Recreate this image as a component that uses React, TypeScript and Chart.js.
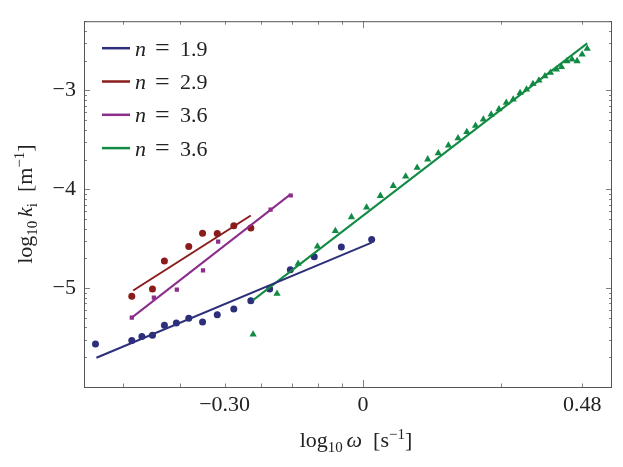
import React, { useEffect, useRef } from "react";
import { Chart, registerables, Plugin } from "chart.js";

Chart.register(...registerables);

const SERIF = "'Liberation Serif', 'Times New Roman', 'DejaVu Serif', serif";

// log10 ω  vs  log10 k_i
const blueX = [-0.582, -0.503, -0.481, -0.458, -0.432, -0.406, -0.379, -0.349, -0.317, -0.281, -0.244, -0.203, -0.158, -0.106, -0.047, 0.019];
const blueY = [-5.565, -5.53, -5.49, -5.477, -5.376, -5.353, -5.304, -5.343, -5.269, -5.21, -5.127, -5.01, -4.814, -4.683, -4.585, -4.507];

const redX = [-0.503, -0.458, -0.432, -0.379, -0.349, -0.317, -0.281, -0.244];
const redY = [-5.082, -5.01, -4.725, -4.578, -4.445, -4.448, -4.37, -4.392];

const purpleX = [-0.503, -0.455, -0.405, -0.348, -0.315, -0.281, -0.201, -0.157];
const purpleY = [-5.298, -5.095, -5.014, -4.82, -4.53, -4.38, -4.206, -4.063];

const greenX = [
  -0.239, -0.187, -0.141, -0.099, -0.06, -0.025, 0.008, 0.038, 0.066, 0.093, 0.118, 0.141,
  0.164, 0.186, 0.207, 0.226, 0.245, 0.262, 0.279, 0.296, 0.312, 0.327, 0.342, 0.356,
  0.37, 0.383, 0.396, 0.408, 0.421, 0.432, 0.444, 0.455, 0.466, 0.477, 0.488,
];
const greenY = [
  -5.468, -5.056, -4.752, -4.578, -4.422, -4.281, -4.183, -4.066, -3.965, -3.87, -3.781, -3.697,
  -3.634, -3.556, -3.484, -3.419, -3.357, -3.294, -3.242, -3.19, -3.125, -3.092, -3.026, -2.99,
  -2.935, -2.899, -2.857, -2.821, -2.788, -2.762, -2.703, -2.686, -2.703, -2.637, -2.578,
];

// fitted power laws (end points of each line)
const blueFitX = [-0.58, 0.019];
const blueFitY = [-5.704, -4.539];
const redFitX = [-0.5, -0.244];
const redFitY = [-5.024, -4.265];
const purpleFitX = [-0.503, -0.157];
const purpleFitY = [-5.298, -4.049];
const greenFitX = [-0.239, 0.488];
const greenFitY = [-5.121, -2.524];

const exponents = ["1.9", "2.9", "3.6", "3.6"];

// axes
const xTickValues = [Math.log10(0.5), 0, Math.log10(3)];
const xTickLabels = ["−0.30", "0", "0.48"];
const yTickValues = [-5, -4, -3];
const yTickLabels = ["−5", "−4", "−3"];
const minorMultipliers = [2, 3, 4, 5, 6, 7, 8, 9];
const xDecades = [-1, 0];
const yDecades = [-6, -5, -4, -3];

const colors = {
  blue: "#2e2f7b",
  red: "#8a1c1c",
  purple: "#8c2d8c",
  green: "#118a43",
};

const zip = (xs: number[], ys: number[]) => xs.map((x, i) => ({ x, y: ys[i] }));

type Piece = { text: string; font: string; dy?: number };

function drawRich(ctx: CanvasRenderingContext2D, pieces: Piece[], cx: number, baseline: number) {
  let total = 0;
  for (const p of pieces) {
    ctx.font = p.font;
    total += ctx.measureText(p.text).width;
  }
  let x = cx - total / 2;
  ctx.textAlign = "left";
  ctx.textBaseline = "alphabetic";
  for (const p of pieces) {
    ctx.font = p.font;
    ctx.fillText(p.text, x, baseline + (p.dy || 0));
    x += ctx.measureText(p.text).width;
  }
}

const big = `22px ${SERIF}`;
const bigItalic = `italic 22px ${SERIF}`;
const small = `15px ${SERIF}`;

const decorPlugin: Plugin = {
  id: "decor",
  afterDraw(chart) {
    const { ctx, chartArea } = chart;
    const { left, right, top, bottom } = chartArea;
    const xs = chart.scales.x;
    const ys = chart.scales.y;
    ctx.save();

    // tick marks, inward on all four sides
    ctx.strokeStyle = "#808080";
    ctx.lineWidth = 1;
    const xMarks: { v: number; major: boolean }[] = [];
    xDecades.forEach((d) => {
      xMarks.push({ v: d, major: true });
      minorMultipliers.forEach((m) => xMarks.push({ v: d + Math.log10(m), major: false }));
    });
    xMarks.forEach(({ v, major }) => {
      if (v <= xs.min || v >= xs.max) return;
      const px = Math.round(xs.getPixelForValue(v)) + 0.5;
      const len = major ? 7 : 3.5;
      ctx.beginPath();
      ctx.moveTo(px, bottom);
      ctx.lineTo(px, bottom - len);
      ctx.moveTo(px, top);
      ctx.lineTo(px, top + len);
      ctx.stroke();
    });
    const yMarks: { v: number; major: boolean }[] = [];
    yDecades.forEach((d) => {
      yMarks.push({ v: d, major: true });
      minorMultipliers.forEach((m) => yMarks.push({ v: d + Math.log10(m), major: false }));
    });
    yMarks.forEach(({ v, major }) => {
      if (v <= ys.min || v >= ys.max) return;
      const py = Math.round(ys.getPixelForValue(v)) + 0.5;
      const len = major ? 6 : 3;
      ctx.beginPath();
      ctx.moveTo(left, py);
      ctx.lineTo(left + len, py);
      ctx.moveTo(right, py);
      ctx.lineTo(right - len, py);
      ctx.stroke();
    });

    // frame
    ctx.strokeStyle = "#555555";
    ctx.strokeRect(left + 0.5, top + 0.5, right - left - 1, bottom - top);

    // legend
    const fits = chart.data.datasets.filter((d: any) => d.isFit);
    fits.forEach((d: any, i: number) => {
      const ly = top + 27 + i * 33.3;
      ctx.strokeStyle = d.borderColor;
      ctx.lineWidth = 2.5;
      ctx.beginPath();
      ctx.moveTo(left + 18, ly);
      ctx.lineTo(left + 46, ly);
      ctx.stroke();
      ctx.fillStyle = "#222";
      ctx.textAlign = "left";
      ctx.textBaseline = "alphabetic";
      ctx.font = bigItalic;
      ctx.fillText("n", left + 51, ly + 7.5);
      ctx.font = `26px ${SERIF}`;
      ctx.fillText("=", left + 71, ly + 8);
      ctx.font = big;
      ctx.fillText(exponents[i], left + 96, ly + 7.5);
    });

    // axis titles
    ctx.fillStyle = "#222";
    drawRich(
      ctx,
      [
        { text: "log", font: big },
        { text: "10", font: small, dy: 5 },
        { text: " ", font: small },
        { text: "ω", font: bigItalic },
        { text: "  [s", font: big },
        { text: "−1", font: small, dy: -8 },
        { text: "]", font: big },
      ],
      (left + right) / 2 + 8,
      bottom + 60
    );
    ctx.translate(32, (top + bottom) / 2);
    ctx.rotate(-Math.PI / 2);
    drawRich(
      ctx,
      [
        { text: "log", font: big },
        { text: "10", font: small, dy: 5 },
        { text: " ", font: small },
        { text: "k", font: bigItalic },
        { text: "i", font: small, dy: 5 },
        { text: "  [m", font: big },
        { text: "−1", font: small, dy: -8 },
        { text: "]", font: big },
      ],
      0,
      0
    );
    ctx.restore();
  },
};

const App: React.FC = () => {
  const canvasRef = useRef<HTMLCanvasElement>(null);

  useEffect(() => {
    document.body.style.margin = "0";
    if (!canvasRef.current) return;
    const ctx = canvasRef.current.getContext("2d")!;

    const fit = (xs: number[], ys: number[], color: string, label: string) => ({
      label,
      isFit: true,
      data: zip(xs, ys),
      showLine: true,
      borderColor: color,
      borderWidth: 2,
      pointRadius: 0,
      fill: false,
    });
    const pts = (xs: number[], ys: number[], color: string, style: string, r: number) => ({
      label: "",
      data: zip(xs, ys),
      pointStyle: style,
      pointRadius: r,
      backgroundColor: color,
      borderColor: color,
      borderWidth: 0,
    });

    const chart = new Chart(ctx, {
      type: "scatter",
      data: {
        datasets: [
          fit(blueFitX, blueFitY, colors.blue, "n = 1.9"),
          fit(redFitX, redFitY, colors.red, "n = 2.9"),
          fit(purpleFitX, purpleFitY, colors.purple, "n = 3.6"),
          fit(greenFitX, greenFitY, colors.green, "n = 3.6"),
          pts(blueX, blueY, colors.blue, "circle", 3.5),
          pts(redX, redY, colors.red, "circle", 3.5),
          pts(purpleX, purpleY, colors.purple, "rect", 3),
          pts(greenX, greenY, colors.green, "triangle", 4.2),
        ] as any,
      },
      options: {
        animation: false,
        responsive: false,
        layout: { padding: { top: 9, right: 11, left: 0, bottom: 0 } },
        scales: {
          x: {
            type: "linear",
            min: -0.607,
            max: 0.542,
            grid: { display: false, drawTicks: false },
            border: { display: false },
            afterBuildTicks: (scale: any) => {
              scale.ticks = xTickValues.map((v) => ({ value: v }));
            },
            afterFit: (scale: any) => {
              scale.height = 80;
            },
            ticks: {
              autoSkip: false,
              maxRotation: 0,
              padding: 5,
              color: "#222",
              font: { family: SERIF, size: 22 },
              callback: (_v: any, i: number) => xTickLabels[i],
            },
          },
          y: {
            type: "linear",
            min: -6,
            max: -2.3,
            grid: { display: false, drawTicks: false },
            border: { display: false },
            afterBuildTicks: (scale: any) => {
              scale.ticks = yTickValues.map((v) => ({ value: v }));
            },
            afterFit: (scale: any) => {
              scale.width = 84;
            },
            ticks: {
              autoSkip: false,
              padding: 8,
              color: "#222",
              font: { family: SERIF, size: 22 },
              callback: (_v: any, i: number) => yTickLabels[i],
            },
          },
        },
        plugins: {
          legend: { display: false },
          tooltip: { enabled: false },
        },
      },
      plugins: [decorPlugin],
    });

    return () => {
      chart.destroy();
    };
  }, []);

  return (
    <div style={{ width: 623, height: 467, background: "#fff" }}>
      <canvas ref={canvasRef} width={623} height={467} />
    </div>
  );
};

export default App;
